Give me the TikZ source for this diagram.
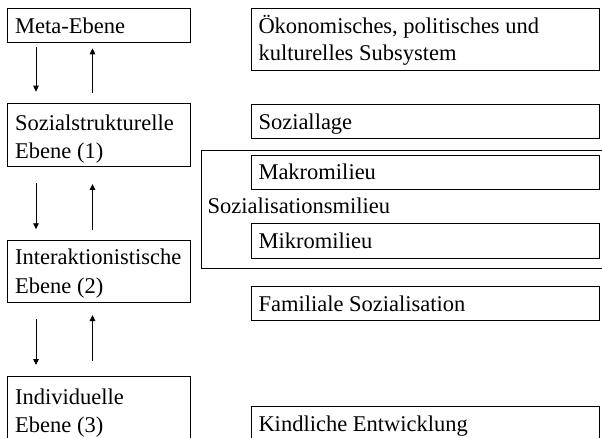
\documentclass[tikz,border=0pt]{standalone}
\usepackage{fontspec}
\setmainfont{Liberation Serif}
\usetikzlibrary{arrows.meta}
\begin{document}
\begin{tikzpicture}[x=1pt,y=-1pt,
  box/.style={draw, line width=0.9pt, inner sep=0pt, outer sep=0pt, anchor=north west},
  txt/.style={inner sep=0pt, anchor=base west, font=\fontsize{22.5}{27}\selectfont},
  arr/.style={line width=0.9pt, -{Triangle[length=6pt,width=5.5pt]}}]
\path[use as bounding box, clip] (0,0) rectangle (602,438);
% left column
\node[box, minimum width=182.5pt, minimum height=34.4pt] (meta) at (7.5,8.3) {};
\node[box, minimum width=182.5pt, minimum height=62.5pt] (sozial) at (7.5,103.5) {};
\node[box, minimum width=182.5pt, minimum height=62.2pt] (interakt) at (7.5,240.5) {};
\node[box, minimum width=182.5pt, minimum height=80pt] (indiv) at (7.5,376.7) {};
\node[txt] (tmeta) at (15,33.3) {Meta-Ebene};
\node[txt] (tsoz1) at (15,131) {Sozialstrukturelle};
\node[txt] (tsoz2) at (15,159) {Ebene (1)};
\node[txt] (tint1) at (15,265) {Interaktionistische};
\node[txt] (tint2) at (15,293) {Ebene (2)};
\node[txt] (tind1) at (15,404) {Individuelle};
\node[txt] (tind2) at (15,432) {Ebene (3)};
% arrows
\coordinate (a1s) at (36,46.7);   \coordinate (a1e) at (36,91.7);
\coordinate (b1s) at (92.5,93.3); \coordinate (b1e) at (92.5,48.3);
\coordinate (a2s) at (36,183.3);  \coordinate (a2e) at (36,229.3);
\coordinate (b2s) at (92.5,230);  \coordinate (b2e) at (92.5,184);
\coordinate (a3s) at (36,319.3);  \coordinate (a3e) at (36,365);
\coordinate (b3s) at (92.5,360.7);\coordinate (b3e) at (92.5,315);
\draw[arr] (a1s) -- (a1e);
\draw[arr] (b1s) -- (b1e);
\draw[arr] (a2s) -- (a2e);
\draw[arr] (b2s) -- (b2e);
\draw[arr] (a3s) -- (a3e);
\draw[arr] (b3s) -- (b3e);
% right column
\node[box, minimum width=413.3pt, minimum height=118.3pt] (milieu) at (201.7,150) {};
\node[box, minimum width=347.6pt, minimum height=61.7pt] (oekon) at (251.7,8.3) {};
\node[box, minimum width=347.6pt, minimum height=34pt] (lage) at (251.7,104.3) {};
\node[box, minimum width=347.6pt, minimum height=34.5pt] (makro) at (251.7,155) {};
\node[box, minimum width=347.6pt, minimum height=35pt] (mikro) at (251.7,223.3) {};
\node[box, minimum width=347.6pt, minimum height=34pt] (famil) at (251.7,286.7) {};
\node[box, minimum width=347.6pt, minimum height=50pt] (kind) at (251.7,406) {};
\node[txt] (toek1) at (258.3,33.3) {Ökonomisches, politisches und};
\node[txt] (toek2) at (258.3,60.3) {kulturelles Subsystem};
\node[txt] (tlage) at (258.3,129.3) {Soziallage};
\node[txt] (tmakro) at (258.3,180) {Makromilieu};
\node[txt] (tmil) at (207.5,214) {Sozialisationsmilieu};
\node[txt] (tmikro) at (258.3,248.3) {Mikromilieu};
\node[txt] (tfam) at (258.3,311.7) {Familiale Sozialisation};
\node[txt] (tkind) at (258.3,431) {Kindliche Entwicklung};
\end{tikzpicture}
\end{document}
